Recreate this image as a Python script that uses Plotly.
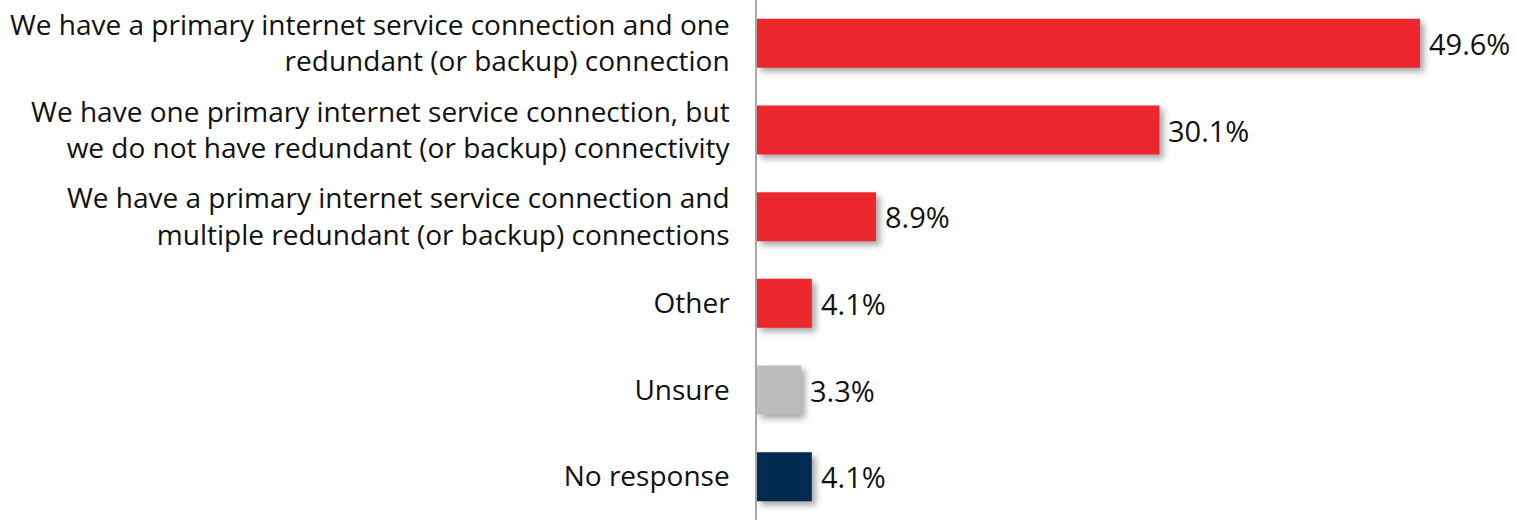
import plotly.graph_objects as go

# Survey responses, top to bottom
categories = [
    "We have a primary internet service connection and one<br>redundant (or backup) connection",
    "We have one primary internet service connection, but<br>we do not have redundant (or backup) connectivity",
    "We have a primary internet service connection and<br>multiple redundant (or backup) connections",
    "Other",
    "Unsure",
    "No response",
]
values = [49.6, 30.1, 8.9, 4.1, 3.3, 4.1]
value_labels = ["49.6%", "30.1%", "8.9%", "4.1%", "3.3%", "4.1%"]

RED = "#EC272E"
GREY = "#BDBBBC"
NAVY = "#002A4F"
bar_colors = [RED, RED, RED, RED, GREY, NAVY]

FONT = "'Open Sans', 'Noto Sans', sans-serif"

fig = go.Figure(
    go.Bar(
        x=values,
        y=categories,
        orientation="h",
        marker=dict(color=bar_colors, line=dict(width=0)),
        hoverinfo="skip",
    )
)

# Percentage labels just past the end of each bar
for cat, val, lab in zip(categories, values, value_labels):
    fig.add_annotation(
        x=val, y=cat, text=lab, showarrow=False,
        xanchor="left", yanchor="middle", xshift=7,
        font=dict(family=FONT, size=29, color="#111111"),
    )

fig.update_layout(
    width=1515,
    height=520,
    margin=dict(l=757, r=0, t=0, b=0),
    plot_bgcolor="white",
    paper_bgcolor="white",
    bargap=0.435,
    showlegend=False,
    font=dict(family=FONT, size=28, color="#111111"),
)
fig.update_xaxes(
    range=[0, 56.7], visible=False, showgrid=False, zeroline=False,
)
fig.update_yaxes(
    autorange="reversed",
    showline=True, linecolor="#A8A8A8", linewidth=1.5,
    showgrid=False, zeroline=False, ticks="",
    ticklabelstandoff=20,
    tickfont=dict(family=FONT, size=28, color="#111111"),
)

# Soft drop shadow under the bars
shadow_js = (
    "var s=document.createElement('style');"
    "s.textContent='.trace.bars .point path{filter:drop-shadow(4px 4px 3px rgba(0,0,0,0.35));}';"
    "document.head.appendChild(s);"
)

fig.write_html("out.html", post_script=shadow_js)
